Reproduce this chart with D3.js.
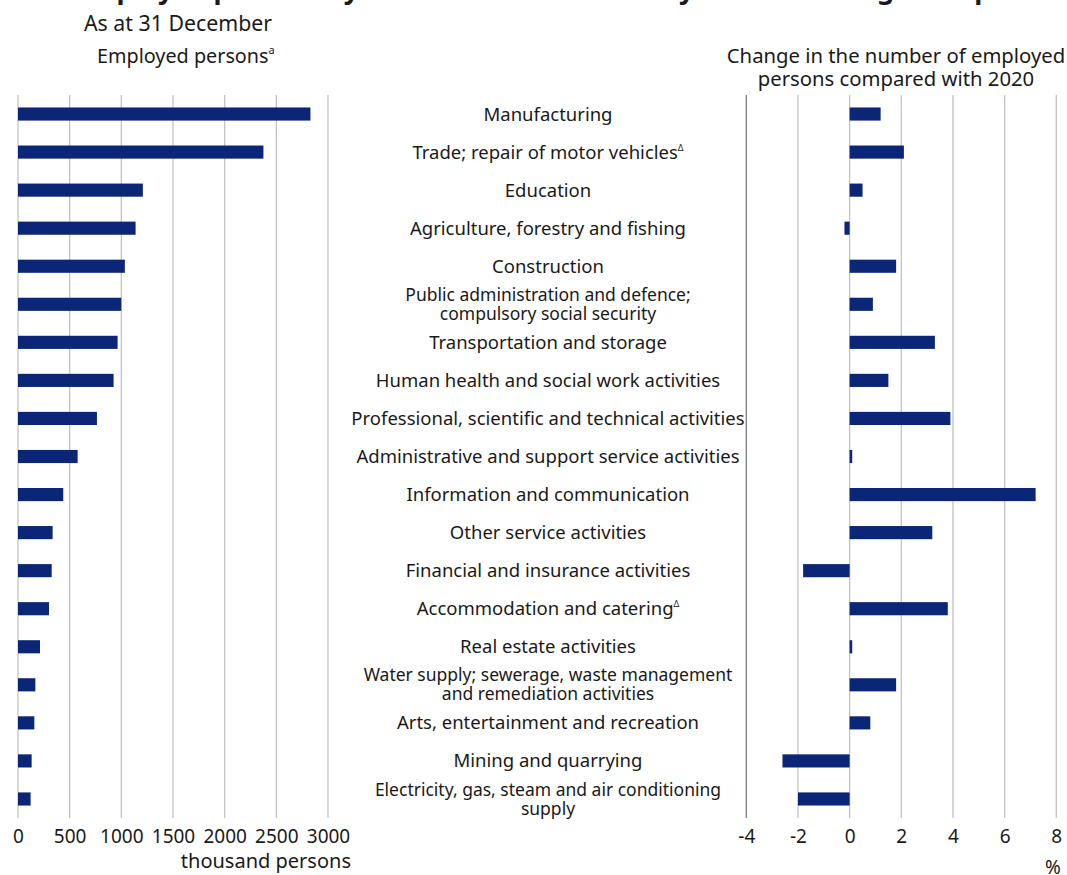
<!DOCTYPE html>
<html>
<head>
  <meta charset="utf-8">
  <script src="https://d3js.org/d3.v7.min.js"></script>
  <style type="text/css">
    body { margin: 0; background: #fff; }
    text { font-family: "Noto Sans", sans-serif; fill: #1a1a1a; }
  </style>
</head>
<body>
  <script type="text/javascript">
    // sections, top to bottom (lines of the label)
    var categories = [
      ["Manufacturing"],
      ["Trade; repair of motor vehicles"],
      ["Education"],
      ["Agriculture, forestry and fishing"],
      ["Construction"],
      ["Public administration and defence;", "compulsory social security"],
      ["Transportation and storage"],
      ["Human health and social work  activities"],
      ["Professional, scientific and technical activities"],
      ["Administrative and support service activities"],
      ["Information and communication"],
      ["Other service activities"],
      ["Financial and insurance activities"],
      ["Accommodation and catering"],
      ["Real estate activities"],
      ["Water supply; sewerage, waste management", "and remediation activities"],
      ["Arts, entertainment and recreation"],
      ["Mining and quarrying"],
      ["Electricity, gas, steam and air conditioning", "supply"]
    ];
    var footMarks = ["", "\u0394", "", "", "", "", "", "", "", "", "", "", "", "\u0394", "", "", "", "", ""];

    // thousand persons
    var employed = [2830, 2375, 1208, 1138, 1034, 999, 964, 925, 764, 577, 438, 335, 326, 300, 213, 168, 158, 132, 122];
    // % change compared with 2020
    var change = [1.2, 2.1, 0.5, -0.2, 1.8, 0.9, 3.3, 1.5, 3.9, 0.1, 7.2, 3.2, -1.8, 3.8, 0.1, 1.8, 0.8, -2.6, -2.0];

    var leftTicks = [0, 500, 1000, 1500, 2000, 2500, 3000];
    var rightTicks = [-4, -2, 0, 2, 4, 6, 8];

    var width = 1067, height = 875;
    var barColor = "#0b2677";
    var gridColor = "#c4c4c4";
    var labSize = 18.5;

    var svg = d3.select("body").append("svg")
      .attr("width", width)
      .attr("height", height);

    var idx = d3.range(categories.length);

    var y = d3.scaleBand().domain(idx).range([95, 818]);
    var barH = y.bandwidth() * 0.345;

    var xL = d3.scaleLinear().domain([0, 3000]).range([18, 328]);
    var xR = d3.scaleLinear().domain([-4, 8]).range([746.3, 1056.3]);

    // title (cut off at the top in the original)
    svg.append("text")
      .attr("x", 75).attr("y", -1)
      .style("font-size", "27px").style("font-weight", "bold")
      .text("Employed persons by sections of the economy and the change compared with previous year");

    svg.append("text")
      .attr("x", 84).attr("y", 31)
      .style("font-size", "21.3px")
      .text("As at 31 December");

    var ep = svg.append("text")
      .attr("x", 97).attr("y", 63)
      .style("font-size", "19.8px");
    ep.append("tspan").text("Employed persons");
    ep.append("tspan").attr("dy", -9).style("font-size", "11px").text("a");

    svg.selectAll("text.rhead")
      .data(["Change in the number of employed", "persons compared with 2020"])
      .enter().append("text")
      .attr("class", "rhead")
      .attr("x", 896)
      .attr("y", function (d, i) { return 63 + i * 23; })
      .attr("text-anchor", "middle")
      .style("font-size", "20.3px")
      .text(function (d) { return d; });

    // gridlines
    svg.append("g").selectAll("line")
      .data(leftTicks).enter().append("line")
      .attr("x1", xL).attr("x2", xL)
      .attr("y1", 95).attr("y2", 818)
      .style("stroke", gridColor).style("stroke-width", 1.3);

    svg.append("g").selectAll("line")
      .data(rightTicks).enter().append("line")
      .attr("x1", xR).attr("x2", xR)
      .attr("y1", 95).attr("y2", 818)
      .style("stroke", function (d, i) { return i === 0 ? "#7a7a7a" : gridColor; })
      .style("stroke-width", 1.3);

    // bars
    svg.append("g").selectAll("rect")
      .data(idx).enter().append("rect")
      .attr("x", xL(0))
      .attr("y", function (i) { return y(i) + (y.bandwidth() - barH) / 2; })
      .attr("width", function (i) { return xL(employed[i]) - xL(0); })
      .attr("height", barH)
      .style("fill", barColor);

    svg.append("g").selectAll("rect")
      .data(idx).enter().append("rect")
      .attr("x", function (i) { return xR(Math.min(0, change[i])); })
      .attr("y", function (i) { return y(i) + (y.bandwidth() - barH) / 2; })
      .attr("width", function (i) { return Math.abs(xR(change[i]) - xR(0)); })
      .attr("height", barH)
      .style("fill", barColor);

    // category labels in the middle, one text per line
    idx.forEach(function (i) {
      var lines = categories[i];
      var cy = y(i) + y.bandwidth() / 2;
      lines.forEach(function (l, k) {
        var off = lines.length === 1 ? 0 : (k === 0 ? -9.5 : 9.5);
        var t = svg.append("text")
          .attr("text-anchor", "middle")
          .attr("x", 548)
          .attr("y", cy + off)
          .attr("dy", "0.35em")
          .style("font-size", (lines.length === 1 ? labSize : 17.5) + "px");
        t.append("tspan").text(l);
        if (k === lines.length - 1 && footMarks[i]) {
          t.append("tspan").attr("dy", -8).style("font-size", "9px").text(footMarks[i]);
        }
      });
    });

    // axes
    var axL = svg.append("g")
      .attr("transform", "translate(0,818)")
      .call(d3.axisBottom(xL).tickValues(leftTicks).tickSize(0).tickPadding(12)
        .tickFormat(d3.format("d")));
    var axR = svg.append("g")
      .attr("transform", "translate(0,818)")
      .call(d3.axisBottom(xR).tickValues(rightTicks).tickSize(0).tickPadding(12)
        .tickFormat(function (d) { return String(d); }));

    [axL, axR].forEach(function (ax) {
      ax.select(".domain").remove();
      ax.selectAll("text")
        .style("font-family", "\"Noto Sans\", sans-serif")
        .style("font-size", "19px")
        .style("fill", "#1a1a1a");
    });

    svg.append("text")
      .attr("x", 351).attr("y", 868)
      .attr("text-anchor", "end")
      .style("font-size", "20px")
      .text("thousand persons");

    svg.append("text")
      .attr("x", 1053).attr("y", 874)
      .attr("text-anchor", "middle")
      .style("font-size", "19px")
      .text("%");
  </script>
</body>
</html>
